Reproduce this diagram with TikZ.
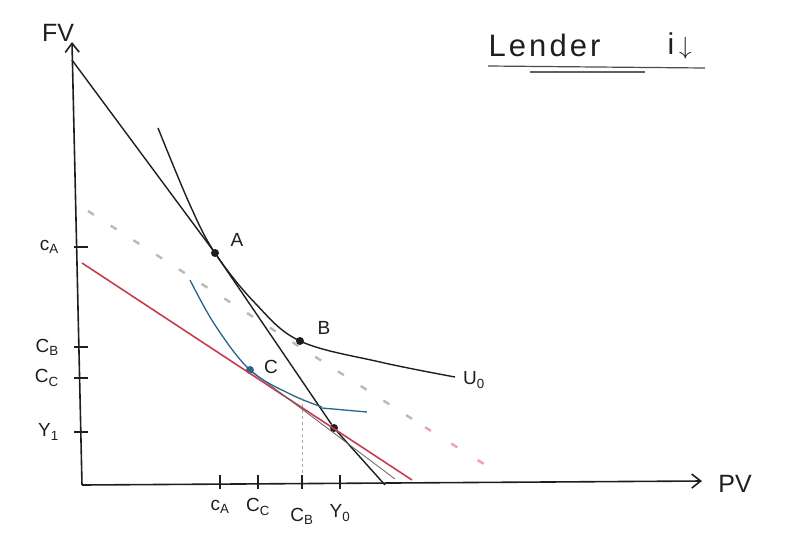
\documentclass[tikz,border=0pt]{standalone}
\usepackage{fontspec}
\setmainfont{Liberation Sans}
\usetikzlibrary{arrows.meta}
\definecolor{ink}{RGB}{30,30,30}
\definecolor{redline}{RGB}{200,60,80}
\definecolor{blueline}{RGB}{40,100,140}
\definecolor{pinkdash}{RGB}{225,120,150}
\begin{document}
\begin{tikzpicture}[x=1pt,y=-1pt,
  axis/.style={ink, line width=1.6pt, -{Straight Barb[length=9pt,width=14pt]}},
  curve/.style={ink, line width=1.4pt},
  dot/.style={circle, fill=ink, inner sep=0pt, minimum size=8pt},
  lbl/.style={font=\fontsize{19}{20}\selectfont, text=ink, inner sep=1pt},
  big/.style={font=\fontsize{25}{26}\selectfont, text=ink, inner sep=0pt},
  tick/.style={ink, line width=1.2pt}]
\useasboundingbox (0,0) rectangle (785,539);

% axes
\coordinate (O) at (82,485);
\coordinate (Ytop) at (72,42);
\coordinate (Xend) at (702,481);
\draw[axis] (O) -- (Ytop);
\draw[axis] (O) -- (Xend);
\node[big] (fv) at (58,33) {FV};
\node[big] (pv) at (735,484) {PV};

% title
\node[font=\fontsize{31}{32}\selectfont\addfontfeature{LetterSpace=10}, text=ink, anchor=base west] (title) at (485,56) {Lender};
\node[font=\fontsize{30}{32}\selectfont, text=ink, anchor=base west] (idown) at (664,54) {i\,$\downarrow$};
\coordinate (u1) at (488,66);
\coordinate (u2) at (705,68);
\coordinate (u3) at (530,72);
\coordinate (u4) at (645,72);
\draw[ink!80, line width=1.2pt] (u1) -- (u2);
\draw[ink!70, line width=1.2pt] (u3) -- (u4);

% dashed shifted line
\coordinate (d1) at (88,211);
\coordinate (d2) at (420,424);
\coordinate (d3) at (500,474);
\draw[gray!55, line width=2.4pt, dash pattern=on 7pt off 20pt] (d1) -- (d2);
\draw[pinkdash!70, line width=2.4pt, dash pattern=on 7pt off 24pt, dash phase=-6pt] (d2) -- (d3);

% points
\node[dot] (A) at (215,253) {};
\node[dot] (B) at (300,341) {};
\node[dot, fill=blueline] (C) at (250,370) {};
\node[dot] (D) at (334,428) {};

% original budget line
\coordinate (b0) at (72,60);
\coordinate (b1) at (385,485);
\draw[curve] (b0) -- (A) -- (D) -- (b1);

% new budget line (red)
\coordinate (r0) at (82,263);
\coordinate (r1) at (412,480);
\draw[redline, line width=1.6pt] (r0) -- (r1);
\draw[ink!70, line width=0.8pt] (C) -- (395,479);

% indifference curve U0
\draw[curve] plot[smooth, tension=0.6] coordinates {(158,128) (190,205) (A) (255,303) (B) (380,362) (455,377)};
\node[lbl] (U0) at (474,380) {U\textsubscript{0}};

% blue indifference curve
\draw[blueline, line width=1.3pt] plot[smooth, tension=0.6] coordinates {(190,280) (215,325) (C) (290,394) (322,407)};
\draw[blueline, line width=1.3pt] (322,408) -- (367,412);

% dashed vertical
\coordinate (v0) at (302,398);
\coordinate (v1) at (302,482);
\draw[gray!70, line width=1pt, dashed] (v0) -- (v1);

% point labels
\node[lbl] (lA) at (237,240) {A};
\node[lbl] (lB) at (324,328) {B};
\node[lbl] (lC) at (271,367) {C};

% y ticks and labels
\foreach \yy/\t/\nm in {247/c\textsubscript{A}/ya, 347/C\textsubscript{B}/yb, 378/C\textsubscript{C}/yc, 432/Y\textsubscript{1}/yd}{
  \draw[tick] (74,\yy) -- (88,\yy);
  \node[lbl, anchor=east] (\nm) at (60,\yy) {\t};
}

% x ticks and labels
\foreach \xx/\t/\nm/\yy in {220/c\textsubscript{A}/xa/507, 258/C\textsubscript{C}/xb/507, 302/C\textsubscript{B}/xc/516, 340/Y\textsubscript{0}/xd/513}{
  \draw[tick] (\xx,475) -- (\xx,489);
  \node[lbl] (\nm) at (\xx,\yy) {\t};
}
\end{tikzpicture}
\end{document}
